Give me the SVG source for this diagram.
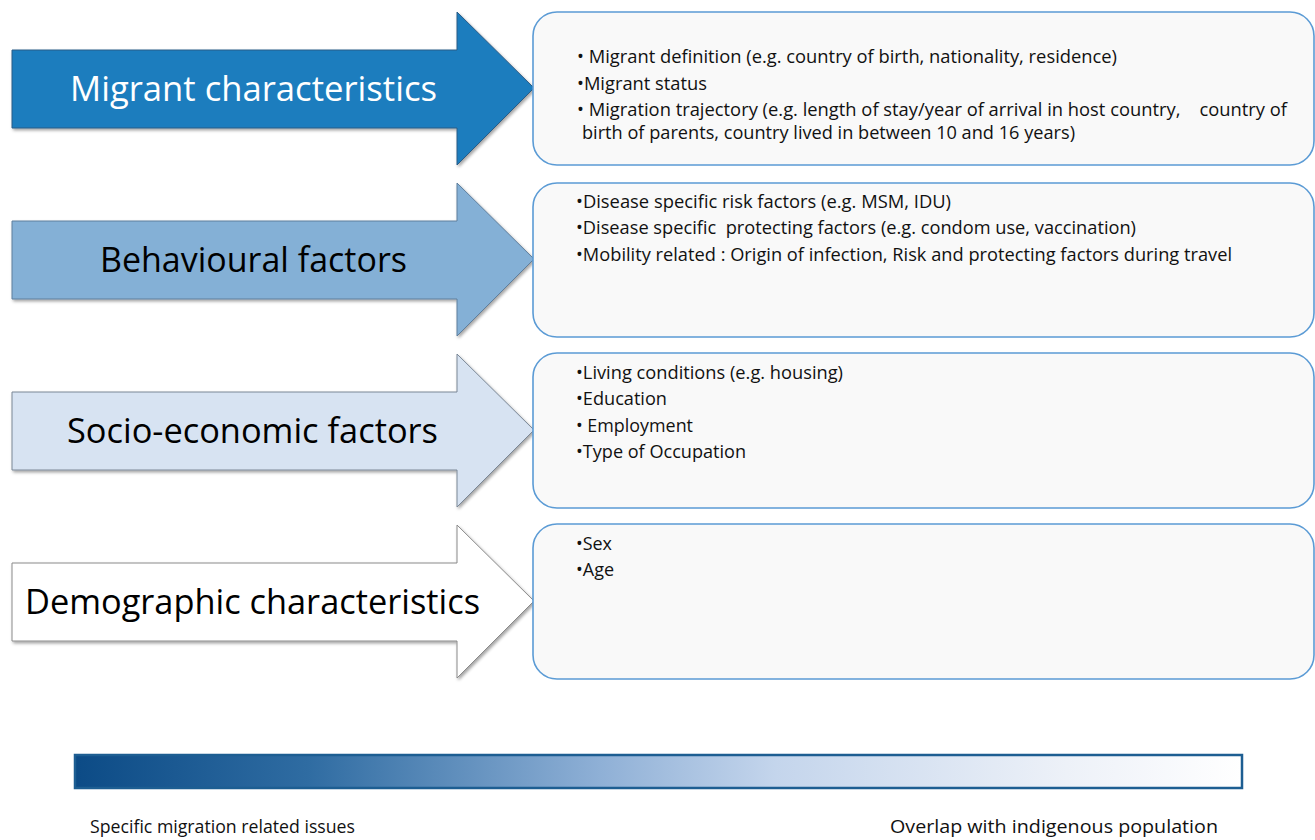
<svg xmlns="http://www.w3.org/2000/svg" width="1315" height="840" viewBox="0 0 1315 840">
<style>
.lbl{font-family:"Open Sans","Liberation Sans",sans-serif;font-size:35px;text-anchor:start}
.bx{fill:#F9F9F9;stroke:#5B9BD5;stroke-width:1.6}
.t{font-family:"Open Sans","Liberation Sans",sans-serif;font-size:18px;fill:#111}
.bt{font-family:"Open Sans","Liberation Sans",sans-serif;font-size:19px;fill:#111}
</style>
<defs>
<filter id="sh" x="-5%" y="-5%" width="110%" height="115%">
<feDropShadow dx="1.5" dy="2" stdDeviation="1.5" flood-color="#000" flood-opacity="0.35"/>
</filter>
<linearGradient id="grad" x1="0" y1="0" x2="1" y2="0">
<stop offset="0" stop-color="#0C4B86"/>
<stop offset="0.2" stop-color="#2F6CA2"/>
<stop offset="0.45" stop-color="#8FB0D6"/>
<stop offset="0.6" stop-color="#C4D5EC"/>
<stop offset="0.85" stop-color="#EDF1F8"/>
<stop offset="1" stop-color="#FFFFFF"/>
</linearGradient>
</defs>
<rect width="1315" height="840" fill="#FFFFFF"/>

<g id="arrow1">
<path d="M12,50 H457 V12 L534,88 L457,165 V128 H12 Z" fill="#1F7DBE" stroke="#2A5C86" stroke-width="1" filter="url(#sh)"/>
<text class="lbl" x="70" y="101" fill="#FFFFFF" textLength="367" lengthAdjust="spacingAndGlyphs">Migrant characteristics</text>
</g>
<g id="box1">
<rect class="bx" x="533" y="12" width="781" height="153" rx="24"/>
<text class="t" x="577" y="63" textLength="540" lengthAdjust="spacingAndGlyphs">• Migrant definition (e.g. country of birth, nationality, residence)</text>
<text class="t" x="577" y="90" textLength="130" lengthAdjust="spacingAndGlyphs">•Migrant status</text>
<text class="t" x="577" y="116" textLength="710" lengthAdjust="spacingAndGlyphs" xml:space="preserve">• Migration trajectory (e.g. length of stay/year of arrival in host country,    country of</text>
<text class="t" x="582" y="139" textLength="493" lengthAdjust="spacingAndGlyphs">birth of parents, country lived in between 10 and 16 years)</text>
</g>

<g id="arrow2">
<path d="M12,221 H457 V183 L534,259 L457,336 V299 H12 Z" fill="#84B0D6" stroke="#5E7E9C" stroke-width="1" filter="url(#sh)"/>
<text class="lbl" x="100" y="272" fill="#000000" textLength="307" lengthAdjust="spacingAndGlyphs">Behavioural factors</text>
</g>
<g id="box2">
<rect class="bx" x="533" y="183" width="781" height="154" rx="24"/>
<text class="t" x="576" y="208" textLength="375" lengthAdjust="spacingAndGlyphs">•Disease specific risk factors (e.g. MSM, IDU)</text>
<text class="t" x="576" y="234" textLength="560" lengthAdjust="spacingAndGlyphs" xml:space="preserve">•Disease specific  protecting factors (e.g. condom use, vaccination)</text>
<text class="t" x="576" y="261" textLength="656" lengthAdjust="spacingAndGlyphs">•Mobility related : Origin of infection, Risk and protecting factors during travel</text>
</g>

<g id="arrow3">
<path d="M12,392 H457 V354 L534,430 L457,507 V470 H12 Z" fill="#D7E3F2" stroke="#7A8796" stroke-width="1" filter="url(#sh)"/>
<text class="lbl" x="67" y="443" fill="#000000" textLength="371" lengthAdjust="spacingAndGlyphs">Socio-economic factors</text>
</g>
<g id="box3">
<rect class="bx" x="533" y="353" width="781" height="155" rx="24"/>
<text class="t" x="576" y="379" textLength="267" lengthAdjust="spacingAndGlyphs">•Living conditions (e.g. housing)</text>
<text class="t" x="576" y="405" textLength="91" lengthAdjust="spacingAndGlyphs">•Education</text>
<text class="t" x="576" y="432" textLength="117" lengthAdjust="spacingAndGlyphs">• Employment</text>
<text class="t" x="576" y="458" textLength="170" lengthAdjust="spacingAndGlyphs">•Type of Occupation</text>
</g>

<g id="arrow4">
<path d="M12,563 H457 V525 L534,601 L457,678 V641 H12 Z" fill="#FFFFFF" stroke="#8A8A8A" stroke-width="1" filter="url(#sh)"/>
<text class="lbl" x="25" y="614" fill="#000000" textLength="455" lengthAdjust="spacingAndGlyphs">Demographic characteristics</text>
</g>
<g id="box4">
<rect class="bx" x="533" y="524" width="781" height="155" rx="24"/>
<text class="t" x="576" y="550" textLength="36" lengthAdjust="spacingAndGlyphs">•Sex</text>
<text class="t" x="576" y="576" textLength="38" lengthAdjust="spacingAndGlyphs">•Age</text>
</g>

<g id="connectors"></g>

<g id="gradient-bar">
<rect x="75" y="755" width="1167" height="33" fill="url(#grad)" stroke="#1D5E92" stroke-width="2.5"/>
<text class="bt" x="90" y="833" textLength="265" lengthAdjust="spacingAndGlyphs">Specific migration related issues</text>
<text class="bt" x="890" y="833" textLength="328" lengthAdjust="spacingAndGlyphs">Overlap with indigenous population</text>
</g>
</svg>
